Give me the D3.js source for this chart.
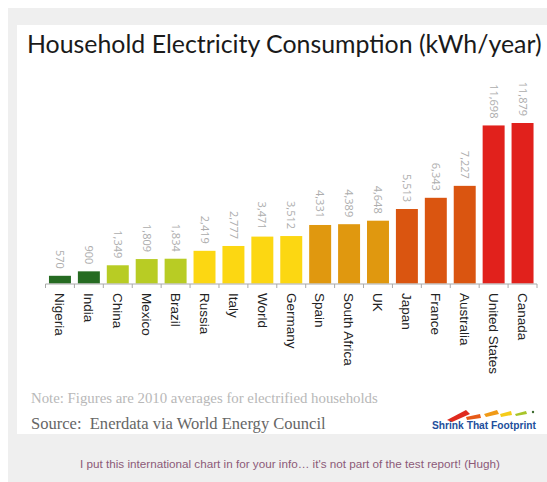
<!DOCTYPE html>
<html>
<head>
<meta charset="utf-8">
<script src="https://cdn.jsdelivr.net/npm/d3@7"></script>
<style>
  body { margin: 0; background: #fff; }
  svg { display: block; }
  text { white-space: pre; }
</style>
</head>
<body>
<svg id="chart" width="547" height="482"></svg>
<script>
// chart data
var countries = ["Nigeria", "India", "China", "Mexico", "Brazil", "Russia", "Italy", "World",
    "Germany", "Spain", "South Africa", "UK", "Japan", "France", "Australia", "United States", "Canada"];
var consumption = [570, 900, 1349, 1809, 1834, 2419, 2777, 3471, 3512, 4331, 4389, 4648,
    5513, 6343, 7227, 11698, 11879];
var colourGroup = ["dkgreen", "dkgreen", "lime", "lime", "lime", "yellow", "yellow", "yellow",
    "yellow", "gold", "gold", "gold", "orange", "orange", "orange", "red", "red"];

var titleText = "Household Electricity Consumption (kWh/year)";
var noteText = "Note: Figures are 2010 averages for electrified households";
var sourceText = "Source:  Enerdata via World Energy Council";
var footerText = "I put this international chart in for your info\u2026 it's not part of the test report! (Hugh)";

var data = countries.map(function (c, i) {
    return {country: c, value: consumption[i], group: colourGroup[i]};
});

var svg = d3.select("#chart");

// page background + white card
svg.append("rect").attr("x", 8).attr("y", 8).attr("width", 539).attr("height", 474).attr("fill", "#efefef");
svg.append("rect").attr("x", 17).attr("y", 25).attr("width", 530).attr("height", 409).attr("fill", "#fff");

// scale a text so it spans a given width
function fitText(sel, width) {
    var fs = parseFloat(sel.attr("font-size"));
    var w = sel.node().getComputedTextLength();
    sel.attr("font-size", (fs * width / w).toFixed(2));
}

var title = svg.append("text")
    .attr("x", 27).attr("y", 53)
    .attr("font-family", "Lato, 'Open Sans', sans-serif")
    .attr("font-size", 24)
    .attr("fill", "#1a1a1a")
    .text(titleText);
fitText(title, 515);

var baseline = 283.5;

var xScale = d3.scaleBand()
    .domain(countries)
    .range([45.5, 537])
    .paddingInner(0.24)
    .paddingOuter(0.12);

var yScale = d3.scaleLinear()
    .domain([0, 11879])
    .range([baseline, 123]);

var colorScale = d3.scaleOrdinal()
    .domain(["dkgreen", "lime", "yellow", "gold", "orange", "red"])
    .range(["#266b22", "#b8cc24", "#fcd712", "#e0980f", "#da5510", "#e1211c"]);

svg.append("g").selectAll("rect")
    .data(data)
    .enter()
    .append("rect")
    .attr("x", function (d) { return xScale(d.country); })
    .attr("width", xScale.bandwidth())
    .attr("y", function (d) { return yScale(d.value); })
    .attr("height", function (d) { return baseline - yScale(d.value); })
    .attr("fill", function (d) { return colorScale(d.group); });

// value labels, rotated, above the bars
var fmt = d3.format(",");
svg.append("g").selectAll("text")
    .data(data)
    .enter()
    .append("text")
    .attr("transform", function (d) {
        return "translate(" + (xScale(d.country) + xScale.bandwidth() / 2) + "," + (yScale(d.value) - 7) + ") rotate(90)";
    })
    .attr("text-anchor", "end")
    .attr("dy", "0.35em")
    .attr("font-family", "'Open Sans', sans-serif")
    .attr("font-size", 11)
    .attr("fill", "#adadad")
    .text(function (d) { return fmt(d.value); });

// x axis with ticks between bars
var xAxis = d3.axisBottom(xScale).tickSize(0).tickFormat("");
var axisG = svg.append("g")
    .attr("transform", "translate(0," + (baseline + 0.5) + ")")
    .call(xAxis);
axisG.select(".domain").attr("stroke", "#aaa").attr("d", "M45.5,0H537");

var step = xScale.step();
axisG.selectAll(".sep")
    .data(countries.concat(["end"]))
    .enter()
    .append("line")
    .attr("class", "sep")
    .attr("x1", function (d, i) { return 45.5 + i * step; })
    .attr("x2", function (d, i) { return 45.5 + i * step; })
    .attr("y1", 0).attr("y2", 4)
    .attr("stroke", "#aaa");

axisG.selectAll(".lbl")
    .data(countries)
    .enter()
    .append("text")
    .attr("class", "lbl")
    .attr("transform", function (d) {
        return "translate(" + (xScale(d) + xScale.bandwidth() / 2) + ",9) rotate(90)";
    })
    .attr("dy", "0.35em")
    .attr("text-anchor", "start")
    .attr("font-family", "'Liberation Sans', Arial, sans-serif")
    .attr("font-size", 13.5)
    .attr("fill", "#222")
    .text(function (d) { return d; });

// note + source
var note = svg.append("text")
    .attr("x", 31).attr("y", 403)
    .attr("font-family", "'Liberation Serif', serif")
    .attr("font-size", 12)
    .attr("fill", "#b8b8b8")
    .text(noteText);
fitText(note, 347);

var source = svg.append("text")
    .attr("x", 31).attr("y", 429)
    .attr("font-family", "'Liberation Serif', serif")
    .attr("font-size", 15)
    .attr("fill", "#666")
    .text(sourceText);
fitText(source, 295);

// logo
var logo = svg.append("g");
logo.append("path").attr("d", "M447,420 L466,410 L470,414 L452,422 Z").attr("fill", "#e02a1e");
logo.append("path").attr("d", "M466,417 L480,414 L481,418 L467,420 Z").attr("fill", "#e65a18");
logo.append("path").attr("d", "M484,414 L497,410 L499,414 L486,417 Z").attr("fill", "#f09a16");
logo.append("path").attr("d", "M500,414 L511,411 L512,415 L501,417 Z").attr("fill", "#f5cc1a");
logo.append("path").attr("d", "M515,414 L526,411 L527,414 L516,416 Z").attr("fill", "#a8c52a");
logo.append("circle").attr("cx", 533).attr("cy", 412).attr("r", 1.2).attr("fill", "#3d6b30");
var logoText = logo.append("text")
    .attr("x", 432).attr("y", 429)
    .attr("font-family", "'Liberation Sans Narrow', 'Liberation Sans', sans-serif")
    .attr("font-weight", "bold")
    .attr("font-size", 11)
    .attr("fill", "#234f9c")
    .text("Shrink That Footprint");
fitText(logoText, 104);

// footer comment
var footer = svg.append("text")
    .attr("x", 80).attr("y", 468)
    .attr("font-family", "'Liberation Sans', Arial, sans-serif")
    .attr("font-size", 9)
    .attr("fill", "#8c5a78")
    .text(footerText);
fitText(footer, 420);
</script>
</body>
</html>
